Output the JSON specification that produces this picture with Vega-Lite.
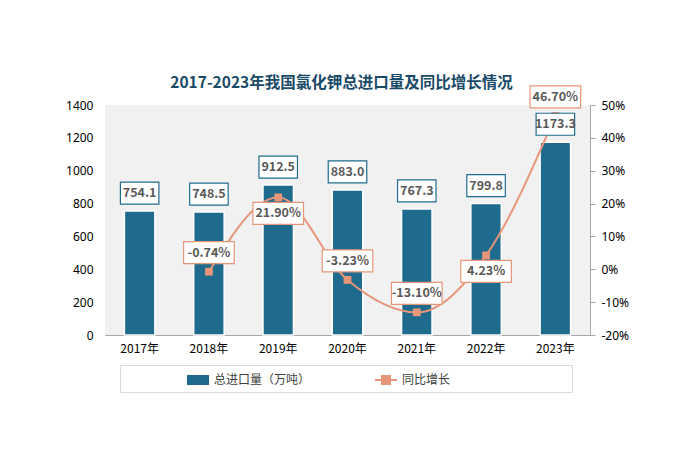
{
  "$schema": "https://vega.github.io/schema/vega-lite/v6.json",
  "width": 485,
  "height": 230,
  "autosize": {"type": "none"},
  "padding": {"left": 105, "top": 105, "right": 107, "bottom": 131},
  "background": "white",
  "config": {
    "view": {"stroke": null, "fill": "#f1f1f1"},
    "font": "Noto Sans CJK SC",
    "locale": {"number": {"decimal": ".", "thousands": ",", "grouping": [3], "currency": ["", ""], "minus": "-"}}
  },
  "title": {
    "text": "2017-2023年我国氯化钾总进口量及同比增长情况",
    "fontSize": 15.5,
    "fontWeight": "bold",
    "color": "#1b4a68",
    "font": "Noto Sans CJK SC",
    "anchor": "middle",
    "offset": 14,
    "dx": -6,
    "dy": 22
  },
  "data": {
    "values": [
      {"year": "2017年", "volume": 754.1, "growth": null, "pos": "none"},
      {"year": "2018年", "volume": 748.5, "growth": -0.0074, "pos": "above"},
      {"year": "2019年", "volume": 912.5, "growth": 0.219, "pos": "below"},
      {"year": "2020年", "volume": 883.0, "growth": -0.0323, "pos": "above"},
      {"year": "2021年", "volume": 767.3, "growth": -0.131, "pos": "above"},
      {"year": "2022年", "volume": 799.8, "growth": 0.0423, "pos": "below"},
      {"year": "2023年", "volume": 1173.3, "growth": 0.467, "pos": "above"}
    ]
  },
  "encoding": {
    "x": {
      "field": "year",
      "type": "ordinal",
      "scale": {"paddingInner": 0.56, "paddingOuter": 0.28},
      "axis": {
        "title": null,
        "labelAngle": 0,
        "ticks": false,
        "domainColor": "#a6a6a6",
        "domainWidth": 1,
        "labelPadding": 8,
        "labelFontSize": 12,
        "labelColor": "#000000",
        "labelFont": "Noto Sans CJK SC",
        "grid": false
      }
    }
  },
  "layer": [
    {
      "mark": {"type": "bar", "stroke": "white", "strokeWidth": 1.5},
      "encoding": {
        "y": {
          "field": "volume",
          "type": "quantitative",
          "scale": {"domain": [0, 1400], "nice": false},
          "axis": {
            "orient": "left",
            "title": null,
            "format": "d",
            "values": [0, 200, 400, 600, 800, 1000, 1200, 1400],
            "domain": false,
            "ticks": false,
            "grid": false,
            "labelPadding": 12,
            "labelFontSize": 12,
            "labelColor": "#000000",
            "labelFont": "Noto Sans"
          }
        },
        "color": {
          "datum": "总进口量（万吨）",
          "scale": {"domain": ["总进口量（万吨）", "同比增长"], "range": ["#1f6b8e", "#e8967a"]},
          "legend": {
            "orient": "none",
            "legendX": 15,
            "legendY": 260,
            "direction": "horizontal",
            "title": null,
            "labelFontSize": 12,
            "labelColor": "#404040",
            "labelFont": "Noto Sans CJK SC",
            "labelOffset": 5,
            "labelLimit": 400,
            "columnPadding": 1,
            "symbolSize": 400,
            "symbolOffset": 63,
            "symbolStrokeWidth": 2,
            "symbolOpacity": 1,
            "symbolType": {"expr": "datum.value === '同比增长' ? 'M-1.1,0H1.1M-0.4,-0.4H0.4V0.4H-0.4Z' : 'M-1,-0.4H1V0.4H-1Z'"},
            "strokeColor": "#d9d9d9",
            "padding": 4,
            "labelExpr": "datum.label === '同比增长' ? datum.label + '⠀⠀⠀⠀⠀⠀⠀⠀⠀⠀⠀⠀⠀' : datum.label"
          }
        }
      }
    },
    {
      "transform": [{"filter": "isValid(datum.growth)"}],
      "encoding": {
        "y": {
          "field": "growth",
          "type": "quantitative",
          "scale": {"domain": [-0.2, 0.5], "nice": false},
          "axis": {
            "orient": "right",
            "title": null,
            "format": ".0%",
            "values": [-0.2, -0.1, 0, 0.1, 0.2, 0.3, 0.4, 0.5],
            "domain": true,
            "domainColor": "#a6a6a6",
            "ticks": true,
            "tickColor": "#a6a6a6",
            "tickSize": 5,
            "grid": false,
            "labelPadding": 6,
            "labelFontSize": 12,
            "labelColor": "#000000",
            "labelFont": "Noto Sans"
          }
        }
      },
      "layer": [
        {
          "mark": {"type": "line", "interpolate": "monotone", "strokeWidth": 2},
          "encoding": {"color": {"datum": "同比增长"}}
        },
        {
          "mark": {"type": "point", "shape": "square", "filled": true, "size": 60, "color": "#e8967a", "opacity": 1}
        },
        {
          "transform": [{"filter": "datum.pos === 'above'"}],
          "layer": [
            {
              "mark": {"type": "point", "shape": "M-2.3,-1H2.3V1H-2.3Z", "size": 484, "filled": true, "fill": "white", "stroke": "#e8967a", "strokeWidth": 1.2, "opacity": 1, "yOffset": -19}
            },
            {
              "mark": {"type": "text", "yOffset": -19, "fontWeight": "bold", "fontSize": 12.5, "color": "#595959", "font": "Noto Sans CJK SC"},
              "encoding": {"text": {"field": "growth", "type": "quantitative", "format": ".2%"}}
            }
          ]
        },
        {
          "transform": [{"filter": "datum.pos === 'below'"}],
          "layer": [
            {
              "mark": {"type": "point", "shape": "M-2.3,-1H2.3V1H-2.3Z", "size": 484, "filled": true, "fill": "white", "stroke": "#e8967a", "strokeWidth": 1.2, "opacity": 1, "yOffset": 16}
            },
            {
              "mark": {"type": "text", "yOffset": 16, "fontWeight": "bold", "fontSize": 12.5, "color": "#595959", "font": "Noto Sans CJK SC"},
              "encoding": {"text": {"field": "growth", "type": "quantitative", "format": ".2%"}}
            }
          ]
        }
      ]
    },
    {
      "encoding": {
        "y": {
          "field": "volume",
          "type": "quantitative",
          "scale": {"domain": [0, 1400], "nice": false},
          "axis": null
        }
      },
      "layer": [
        {
          "mark": {"type": "point", "shape": "M-1.75,-1H1.75V1H-1.75Z", "size": 484, "filled": true, "fill": "white", "stroke": "#1f6b8e", "strokeWidth": 1.2, "opacity": 1, "yOffset": -18}
        },
        {
          "mark": {"type": "text", "yOffset": -18, "fontWeight": "bold", "fontSize": 12.5, "color": "#595959", "font": "Noto Sans CJK SC"},
          "encoding": {"text": {"field": "volume", "type": "quantitative", "format": ".1f"}}
        }
      ]
    }
  ],
  "resolve": {"scale": {"y": "independent"}}
}
